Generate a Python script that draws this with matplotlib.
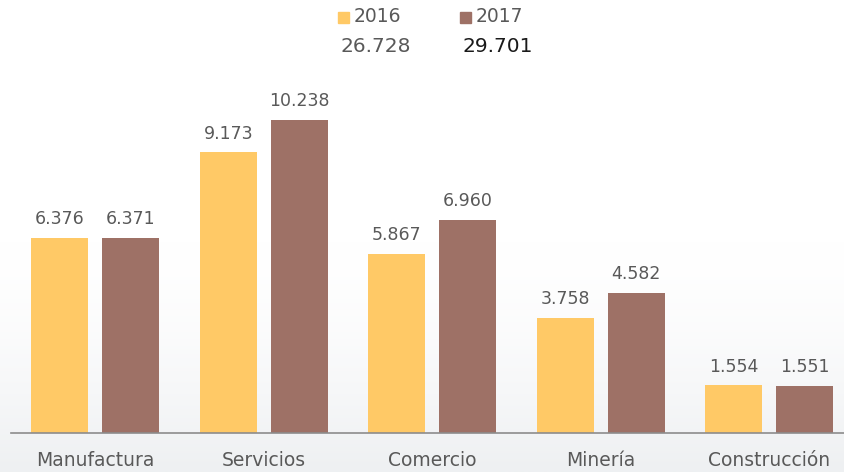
import matplotlib.pyplot as plt
import numpy as np

categories = ["Manufactura", "Servicios", "Comercio", "Minería", "Construcción"]
values_2016 = [6.376, 9.173, 5.867, 3.758, 1.554]
values_2017 = [6.371, 10.238, 6.960, 4.582, 1.551]
labels_2016 = ["6.376", "9.173", "5.867", "3.758", "1.554"]
labels_2017 = ["6.371", "10.238", "6.960", "4.582", "1.551"]
series = ["2016", "2017"]
totals = ["26.728", "29.701"]

c16 = "#FFC966"
c17 = "#9E7166"
txt = "#595959"

fig = plt.figure(figsize=(8.45, 4.72), dpi=100)

# soft grey gradient at the bottom of the background
bg = fig.add_axes([0, 0, 1, 1], zorder=0)
grad = np.linspace(0, 1, 200)
grad = np.clip((grad - 0.5) / 0.5, 0, 1) ** 1.6
bg.imshow(grad[:, None], aspect="auto", cmap=plt.matplotlib.colors.LinearSegmentedColormap.from_list(
    "bg", ["#FFFFFF", "#EEF0F2"]), extent=[0, 1, 0, 1], origin="upper", vmin=0, vmax=1)
bg.axis("off")

ax = fig.add_axes([11 / 845, 39 / 472, 834 / 845, 433 / 472], zorder=1)
ax.patch.set_alpha(0)

x = np.arange(len(categories))
off = 0.21
w = 0.338
b1 = ax.bar(x - off, values_2016, w, color=c16)
b2 = ax.bar(x + off, values_2017, w, color=c17)

for rect, lab in zip(b1, labels_2016):
    ax.text(rect.get_x() + rect.get_width() / 2, rect.get_height() + 0.32, lab,
            ha="center", va="bottom", fontsize=12.5, color=txt)
for rect, lab in zip(b2, labels_2017):
    ax.text(rect.get_x() + rect.get_width() / 2, rect.get_height() + 0.32, lab,
            ha="center", va="bottom", fontsize=12.5, color=txt)

ax.set_xlim(-0.5, 4.45)
ax.set_ylim(0, 14.16)
ax.set_xticks(x)
ax.set_xticklabels(categories, fontsize=13.5, color=txt)
ax.tick_params(axis="x", length=0, pad=13)
ax.set_yticks([])
for s in ["top", "right", "left"]:
    ax.spines[s].set_visible(False)
ax.spines["bottom"].set_color("#8C8C8C")
ax.spines["bottom"].set_linewidth(1.2)

# legend and totals
for xs, col, name, tot, tcol in [(338, c16, series[0], totals[0], txt),
                                  (460, c17, series[1], totals[1], "#1A1A1A")]:
    fig.patches.append(plt.Rectangle((xs / 845, 1 - 23 / 472), 11 / 845, 11 / 472,
                                     transform=fig.transFigure, color=col))
    fig.text((xs + 16) / 845, 1 - 17 / 472, name, fontsize=13.5, color=txt,
             ha="left", va="center")
    fig.text((xs + 3) / 845, 1 - 46 / 472, tot, fontsize=14.5, color=tcol,
             ha="left", va="center")

fig.savefig("out.png", dpi=100)
